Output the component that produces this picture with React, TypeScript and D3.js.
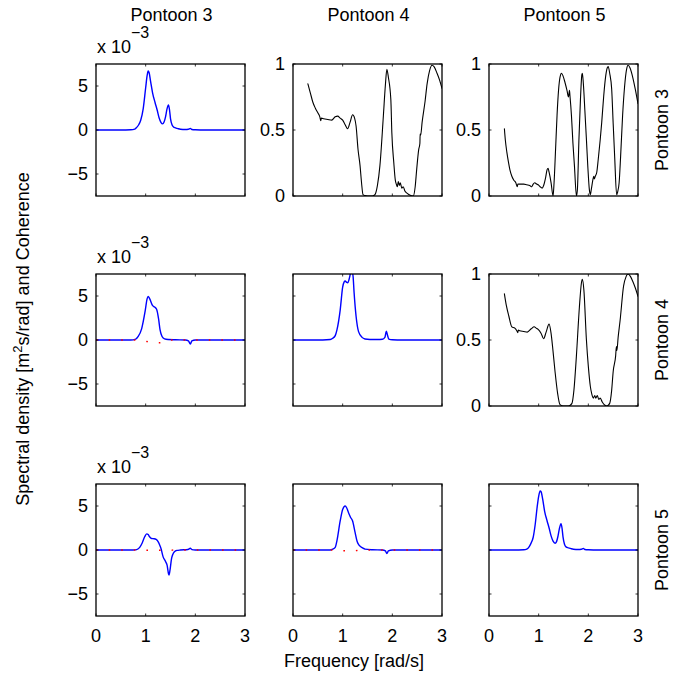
import React from "react";
import * as d3 from "d3";

// ---------- DATA ----------
const rowLabels = ["Pontoon 3", "Pontoon 4", "Pontoon 5"];
const colLabels = ["Pontoon 3", "Pontoon 4", "Pontoon 5"];
const xTicks = [0, 1, 2, 3];
const specTicks = [-5, 0, 5];
const cohTicks = [0, 0.5, 1];
const specTickLabels = ["\u22125", "0", "5"];
const cohTickLabels = ["0", "0.5", "1"];

// Auto spectrum Pontoon 3 (x1e-3)
const s33F = [0, 0.5, 0.7, 0.78, 0.82, 0.86, 0.9, 0.95, 1.0, 1.03, 1.05, 1.07, 1.1, 1.14, 1.19, 1.23, 1.27, 1.31, 1.34, 1.37, 1.4, 1.43, 1.46, 1.48, 1.5, 1.53, 1.56, 1.6, 1.65, 1.7, 1.8, 1.86, 1.9, 1.93, 2.0, 2.2, 3.0];
const s33V = [0, 0, 0.02, 0.1, 0.3, 0.6, 1.1, 2.4, 4.8, 6.2, 6.7, 6.5, 5.5, 4.2, 3.1, 2.3, 1.4, 0.85, 0.7, 0.9, 1.5, 2.4, 2.85, 2.3, 1.3, 0.6, 0.35, 0.25, 0.15, 0.08, 0.05, 0.08, 0.18, 0.06, 0.02, 0, 0];

// Auto spectrum Pontoon 4 (x1e-3)
const s44F = [0, 0.6, 0.75, 0.8, 0.85, 0.885, 0.95, 1.0, 1.03, 1.05, 1.08, 1.1, 1.13, 1.16, 1.19, 1.21, 1.23, 1.27, 1.32, 1.39, 1.45, 1.55, 1.7, 1.8, 1.85, 1.88, 1.9, 1.93, 2.0, 2.2, 3.0];
const s44V = [0, 0, 0.05, 0.2, 0.5, 1.15, 3.4, 6.0, 6.6, 6.7, 6.55, 6.5, 6.9, 7.6, 7.8, 7.2, 5.4, 2.7, 0.95, 0.3, 0.12, 0.06, 0.05, 0.08, 0.3, 1.0, 0.6, 0.1, 0.02, 0, 0];

// Auto spectrum Pontoon 5 (x1e-3)
const s55F = [0, 0.5, 0.7, 0.76, 0.8, 0.84, 0.89, 0.93, 0.97, 1.0, 1.03, 1.05, 1.08, 1.12, 1.17, 1.21, 1.25, 1.29, 1.33, 1.36, 1.39, 1.42, 1.45, 1.47, 1.49, 1.52, 1.55, 1.6, 1.65, 1.7, 1.8, 1.86, 1.9, 1.93, 2.0, 2.2, 3.0];
const s55V = [0, 0, 0.02, 0.1, 0.3, 0.7, 1.45, 2.9, 4.9, 6.1, 6.7, 6.6, 5.8, 4.4, 3.3, 2.5, 1.6, 1.0, 0.76, 0.95, 1.6, 2.5, 3.0, 2.5, 1.5, 0.65, 0.35, 0.25, 0.15, 0.08, 0.05, 0.08, 0.18, 0.06, 0.02, 0, 0];

// Cross spectrum Pontoon 3-4 real / imag (x1e-3)
const c34F = [0, 0.7, 0.8, 0.85, 0.92, 0.99, 1.03, 1.05, 1.08, 1.14, 1.18, 1.22, 1.26, 1.29, 1.33, 1.38, 1.45, 1.6, 1.8, 1.86, 1.9, 1.93, 2.0, 3.0];
const c34Re = [0, 0, 0.1, 0.4, 1.3, 3.3, 4.7, 4.95, 4.7, 3.9, 3.75, 3.5, 2.4, 1.14, 0.4, 0.12, 0.05, 0.02, 0, -0.1, -0.45, -0.1, 0, 0];
const c34Im = [0, 0, 0, 0, -0.05, -0.12, -0.18, -0.2, -0.2, -0.22, -0.25, -0.28, -0.3, -0.3, -0.2, -0.08, -0.02, 0, 0, 0, 0, 0, 0, 0];

// Cross spectrum Pontoon 3-5 real / imag (x1e-3)
const c35F = [0, 0.75, 0.82, 0.88, 0.93, 0.98, 1.02, 1.05, 1.08, 1.12, 1.17, 1.21, 1.25, 1.28, 1.31, 1.35, 1.4, 1.43, 1.46, 1.47, 1.49, 1.52, 1.55, 1.58, 1.63, 1.7, 1.85, 1.9, 1.93, 2.0, 3.0];
const c35Re = [0, 0, 0.05, 0.3, 0.8, 1.5, 1.83, 1.75, 1.5, 1.3, 1.28, 1.2, 0.95, 0.6, 0.15, -0.75, -1.3, -1.7, -2.7, -2.85, -2.3, -1.0, -0.45, -0.2, -0.05, 0, 0.05, 0.2, 0.05, 0, 0];
const c35Im = [0, 0, 0, 0, 0, -0.02, -0.03, -0.03, -0.03, -0.03, -0.02, -0.02, -0.02, -0.02, -0.02, -0.02, -0.02, -0.02, -0.02, -0.02, -0.02, -0.02, -0.01, 0, 0, 0, 0, 0, 0, 0, 0];

// Cross spectrum Pontoon 4-5 real / imag (x1e-3)
const c45F = [0, 0.75, 0.8, 0.85, 0.885, 0.95, 1.0, 1.05, 1.08, 1.12, 1.16, 1.2, 1.25, 1.29, 1.33, 1.4, 1.45, 1.6, 1.8, 1.86, 1.89, 1.92, 2.0, 3.0];
const c45Re = [0, 0, 0.1, 0.3, 1.07, 3.3, 4.6, 5.0, 4.8, 4.2, 3.7, 3.3, 2.0, 1.0, 0.55, 0.25, 0.1, 0.03, 0, -0.1, -0.4, -0.1, 0, 0];
const c45Im = [0, 0, 0, 0, -0.02, -0.05, -0.08, -0.08, -0.08, -0.1, -0.12, -0.12, -0.1, -0.05, -0.02, 0, 0, 0, 0, 0, 0, 0, 0, 0];

// Coherence Pontoon 3-4
const coh34F = [0.3, 0.35, 0.4, 0.45, 0.5, 0.54, 0.56, 0.57, 0.62, 0.7, 0.78, 0.85, 0.9, 0.95, 1.0, 1.05, 1.1, 1.15, 1.2, 1.24, 1.27, 1.31, 1.35, 1.38, 1.41, 1.45, 1.5, 1.6, 1.65, 1.7, 1.75, 1.82, 1.86, 1.89, 1.92, 1.97, 1.99, 2.03, 2.06, 2.08, 2.1, 2.12, 2.14, 2.16, 2.19, 2.22, 2.25, 2.3, 2.36, 2.42, 2.46, 2.49, 2.53, 2.555, 2.56, 2.57, 2.6, 2.66, 2.7, 2.75, 2.8, 2.84, 2.9, 2.95, 3.0];
const coh34V = [0.85, 0.78, 0.71, 0.665, 0.63, 0.6, 0.57, 0.59, 0.585, 0.58, 0.575, 0.6, 0.605, 0.59, 0.575, 0.54, 0.51, 0.56, 0.615, 0.59, 0.53, 0.35, 0.23, 0.1, 0.01, 0.003, 0, 0, 0.01, 0.08, 0.23, 0.61, 0.84, 0.96, 0.9, 0.73, 0.48, 0.25, 0.12, 0.09, 0.07, 0.11, 0.08, 0.1, 0.06, 0.07, 0.04, 0.02, 0.005, 0, 0.07, 0.2, 0.35, 0.4, 0.47, 0.46, 0.56, 0.72, 0.85, 0.95, 0.99, 0.98, 0.93, 0.88, 0.815];

// Coherence Pontoon 3-5
const coh35F = [0.31, 0.33, 0.36, 0.39, 0.42, 0.46, 0.5, 0.54, 0.57, 0.58, 0.62, 0.7, 0.76, 0.82, 0.86, 0.89, 0.92, 0.96, 0.99, 1.03, 1.07, 1.1, 1.14, 1.17, 1.19, 1.21, 1.25, 1.29, 1.31, 1.34, 1.37, 1.4, 1.43, 1.46, 1.49, 1.53, 1.57, 1.6, 1.62, 1.63, 1.66, 1.69, 1.72, 1.76, 1.78, 1.81, 1.84, 1.87, 1.88, 1.9, 1.93, 1.96, 1.99, 2.02, 2.04, 2.06, 2.09, 2.11, 2.12, 2.14, 2.17, 2.2, 2.24, 2.27, 2.31, 2.35, 2.38, 2.4, 2.43, 2.47, 2.5, 2.53, 2.57, 2.59, 2.62, 2.65, 2.69, 2.73, 2.77, 2.8, 2.84, 2.9, 2.95, 3.0];
const coh35V = [0.51, 0.42, 0.33, 0.26, 0.2, 0.15, 0.12, 0.1, 0.07, 0.09, 0.09, 0.09, 0.085, 0.08, 0.07, 0.09, 0.1, 0.09, 0.085, 0.07, 0.06, 0.08, 0.14, 0.2, 0.21, 0.18, 0.1, 0, 0.1, 0.35, 0.61, 0.8, 0.9, 0.93, 0.91, 0.86, 0.8, 0.75, 0.8, 0.76, 0.61, 0.4, 0.23, 0, 0.05, 0.42, 0.72, 0.92, 0.93, 0.85, 0.65, 0.44, 0.22, 0.05, 0.01, 0.05, 0.12, 0.15, 0.13, 0.15, 0.18, 0.28, 0.43, 0.56, 0.76, 0.91, 0.97, 0.98, 0.93, 0.81, 0.55, 0.3, 0.01, 0.03, 0.1, 0.3, 0.61, 0.83, 0.96, 0.99, 0.97, 0.89, 0.8, 0.7];

// Coherence Pontoon 4-5
const coh45F = [0.31, 0.35, 0.4, 0.46, 0.52, 0.56, 0.58, 0.59, 0.62, 0.7, 0.77, 0.85, 0.91, 0.95, 0.99, 1.05, 1.1, 1.15, 1.21, 1.25, 1.28, 1.33, 1.38, 1.43, 1.5, 1.6, 1.67, 1.71, 1.76, 1.82, 1.86, 1.88, 1.91, 1.96, 2.0, 2.04, 2.07, 2.1, 2.13, 2.15, 2.18, 2.21, 2.24, 2.28, 2.32, 2.37, 2.43, 2.47, 2.5, 2.55, 2.565, 2.575, 2.6, 2.64, 2.71, 2.76, 2.8, 2.85, 2.9, 2.95, 3.0];
const coh45V = [0.85, 0.76, 0.68, 0.6, 0.59, 0.57, 0.556, 0.575, 0.57, 0.565, 0.56, 0.585, 0.6, 0.59, 0.58, 0.55, 0.51, 0.56, 0.62, 0.55, 0.45, 0.26, 0.1, 0.01, 0, 0, 0.02, 0.12, 0.38, 0.75, 0.93, 0.96, 0.88, 0.51, 0.3, 0.15, 0.09, 0.06, 0.08, 0.06, 0.08, 0.05, 0.06, 0.03, 0.01, 0, 0.02, 0.12, 0.26, 0.38, 0.45, 0.42, 0.52, 0.65, 0.91, 0.98, 1.0, 0.98, 0.94, 0.89, 0.83];

// ---------- LAYOUT ----------
const W = 684;
const H = 677;
const colX = [96, 293, 489];
const rowY = [64, 274, 484];
const PW = 149;
const PH = 132;
const FONT = "'Liberation Sans', Arial, Helvetica, sans-serif";
const FS = 18;

type Series = { f: number[]; v: number[]; color: string; width: number; dash?: string };
type PanelDef = {
  r: number;
  c: number;
  kind: "spec" | "coh";
  series: Series[];
  yLabels: boolean;
  xLabels: boolean;
  exponent: boolean;
};

const blue = "#0000ff";
const red = "#ff0000";
const black = "#000000";
const DOT = "1.6,11";

const panels: PanelDef[] = [
  { r: 0, c: 0, kind: "spec", series: [{ f: s33F, v: s33V, color: blue, width: 1.4 }], yLabels: true, xLabels: false, exponent: true },
  { r: 0, c: 1, kind: "coh", series: [{ f: coh34F, v: coh34V, color: black, width: 1.1 }], yLabels: true, xLabels: false, exponent: false },
  { r: 0, c: 2, kind: "coh", series: [{ f: coh35F, v: coh35V, color: black, width: 1.1 }], yLabels: true, xLabels: false, exponent: false },
  {
    r: 1, c: 0, kind: "spec",
    series: [
      { f: c34F, v: c34Re, color: blue, width: 1.4 },
      { f: c34F, v: c34Im, color: red, width: 1.5, dash: DOT },
    ],
    yLabels: true, xLabels: false, exponent: true,
  },
  { r: 1, c: 1, kind: "spec", series: [{ f: s44F, v: s44V, color: blue, width: 1.4 }], yLabels: false, xLabels: false, exponent: false },
  { r: 1, c: 2, kind: "coh", series: [{ f: coh45F, v: coh45V, color: black, width: 1.1 }], yLabels: true, xLabels: false, exponent: false },
  {
    r: 2, c: 0, kind: "spec",
    series: [
      { f: c35F, v: c35Re, color: blue, width: 1.4 },
      { f: c35F, v: c35Im, color: red, width: 1.5, dash: DOT },
    ],
    yLabels: true, xLabels: true, exponent: true,
  },
  {
    r: 2, c: 1, kind: "spec",
    series: [
      { f: c45F, v: c45Re, color: blue, width: 1.4 },
      { f: c45F, v: c45Im, color: red, width: 1.5, dash: DOT },
    ],
    yLabels: false, xLabels: true, exponent: false,
  },
  { r: 2, c: 2, kind: "spec", series: [{ f: s55F, v: s55V, color: blue, width: 1.4 }], yLabels: false, xLabels: true, exponent: false },
];

const TL = 2.5;

function Panel({ p, idx }: { p: PanelDef; idx: number }) {
  const x0 = colX[p.c];
  const y0 = rowY[p.r];
  const x = d3.scaleLinear().domain([0, 3]).range([x0, x0 + PW]);
  const y =
    p.kind === "spec"
      ? d3.scaleLinear().domain([-7.5, 7.5]).range([y0 + PH, y0])
      : d3.scaleLinear().domain([0, 1]).range([y0 + PH, y0]);
  const yt = p.kind === "spec" ? specTicks : cohTicks;
  const ytl = p.kind === "spec" ? specTickLabels : cohTickLabels;
  const clipId = `clip-${idx}`;
  return (
    <g>
      <defs>
        <clipPath id={clipId}>
          <rect x={x0} y={y0} width={PW} height={PH} />
        </clipPath>
      </defs>
      <g clipPath={`url(#${clipId})`}>
        {p.series.map((s, i) => {
          const pts: [number, number][] = s.f.map((f, j) => [f, s.v[j]]);
          const line = d3
            .line<[number, number]>()
            .x((d) => x(d[0]))
            .y((d) => y(d[1]))
            .curve(d3.curveMonotoneX);
          return (
            <path
              key={i}
              d={line(pts) || ""}
              fill="none"
              stroke={s.color}
              strokeWidth={s.width}
              strokeDasharray={s.dash}
              strokeLinejoin="round"
              strokeLinecap={s.dash ? "butt" : "round"}
            />
          );
        })}
      </g>
      {/* ticks (inward, mirrored) */}
      {xTicks.map((t) => (
        <g key={`xt${t}`}>
          <line x1={x(t)} x2={x(t)} y1={y0 + PH} y2={y0 + PH - TL} stroke="#000" strokeWidth={0.8} />
          <line x1={x(t)} x2={x(t)} y1={y0} y2={y0 + TL} stroke="#000" strokeWidth={0.8} />
        </g>
      ))}
      {yt.map((t) => (
        <g key={`yt${t}`}>
          <line x1={x0} x2={x0 + TL} y1={y(t)} y2={y(t)} stroke="#000" strokeWidth={0.8} />
          <line x1={x0 + PW} x2={x0 + PW - TL} y1={y(t)} y2={y(t)} stroke="#000" strokeWidth={0.8} />
        </g>
      ))}
      <rect x={x0} y={y0} width={PW} height={PH} fill="none" stroke="#000" strokeWidth={1.3} />
      {p.yLabels &&
        yt.map((t, i) => (
          <text
            key={`yl${t}`}
            x={x0 - 8}
            y={y(t)}
            dy="0.36em"
            textAnchor="end"
            fontFamily={FONT}
            fontSize={FS}
          >
            {ytl[i]}
          </text>
        ))}
      {p.xLabels &&
        xTicks.map((t) => (
          <text key={`xl${t}`} x={x(t)} y={y0 + PH + 26} textAnchor="middle" fontFamily={FONT} fontSize={FS}>
            {String(t)}
          </text>
        ))}
      {p.exponent && (
        <g fontFamily={FONT}>
          <text x={x0 + 1} y={y0 - 11} fontSize={FS}>x 10</text>
          <text x={x0 + 35} y={y0 - 26} fontSize={16}>{"\u22123"}</text>
        </g>
      )}
    </g>
  );
}

export default function App() {
  return (
    <svg width={W} height={H} style={{ display: "block", position: "absolute", left: 0, top: 0, background: "#fff" }}>
      <rect x={0} y={0} width={W} height={H} fill="#fff" />
      {panels.map((p, i) => (
        <Panel key={i} p={p} idx={i} />
      ))}
      {colLabels.map((l, i) => (
        <text key={`cl${i}`} x={colX[i] + PW / 2 + 1} y={21} textAnchor="middle" fontFamily={FONT} fontSize={FS}>
          {l}
        </text>
      ))}
      {rowLabels.map((l, i) => (
        <text
          key={`rl${i}`}
          transform={`translate(668, ${rowY[i] + PH / 2}) rotate(-90)`}
          textAnchor="middle"
          fontFamily={FONT}
          fontSize={FS}
        >
          {l}
        </text>
      ))}
      <text x={354} y={667} textAnchor="middle" fontFamily={FONT} fontSize={FS}>
        Frequency [rad/s]
      </text>
      <text transform="translate(29, 339) rotate(-90)" textAnchor="middle" fontFamily={FONT} fontSize={FS}>
        Spectral density [m
        <tspan dy={-7} fontSize={13}>2</tspan>
        <tspan dy={7}>s/rad] and Coherence</tspan>
      </text>
    </svg>
  );
}
